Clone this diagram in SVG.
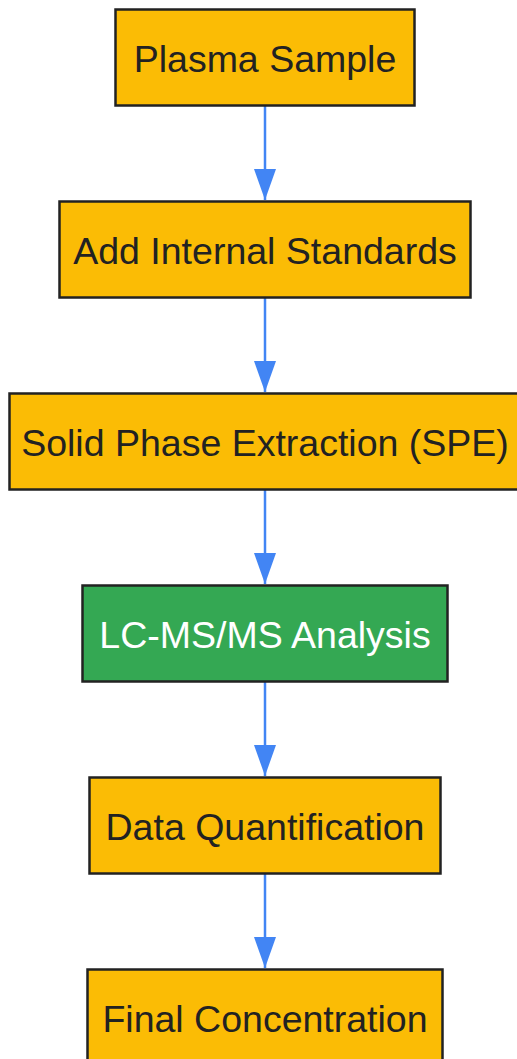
<svg xmlns="http://www.w3.org/2000/svg" width="517" height="1059" viewBox="0 0 517 1059">
<style>
.node rect{fill:#FBBC05;stroke:#222222;stroke-width:2.5}
.node.green rect{fill:#34A853}
.node text{font-family:"Liberation Sans",Arial,sans-serif;font-size:37.5px;fill:#222222;text-anchor:middle}
.node.green text{fill:#FFFFFF}
.edge{stroke:#4285F4;stroke-width:2.5;fill:none}
</style>
<defs>
<marker id="arrow" markerUnits="userSpaceOnUse" markerWidth="32" markerHeight="24" refX="31" refY="11" orient="auto">
<path d="M0,0 L31,11 L0,22 Z" fill="#4285F4"/>
</marker>
</defs>
<rect width="517" height="1059" fill="#FFFFFF"/>
<g id="connectors">
<path class="edge" d="M265,106 L265,200" marker-end="url(#arrow)"/>
<path class="edge" d="M265,298 L265,392" marker-end="url(#arrow)"/>
<path class="edge" d="M265,490 L265,584" marker-end="url(#arrow)"/>
<path class="edge" d="M265,682 L265,776" marker-end="url(#arrow)"/>
<path class="edge" d="M265,874 L265,968" marker-end="url(#arrow)"/>
</g>
<g id="plasma" class="node"><rect x="115.5" y="9.5" width="299" height="96"/><text x="265" y="72">Plasma Sample</text></g>
<g id="internal" class="node"><rect x="59.5" y="201.5" width="411" height="96"/><text x="265" y="264">Add Internal Standards</text></g>
<g id="spe" class="node"><rect x="9.5" y="393.5" width="511" height="96"/><text x="265" y="456">Solid Phase Extraction (SPE)</text></g>
<g id="lcms" class="node green"><rect x="82.5" y="585.5" width="365" height="96"/><text x="265" y="648">LC-MS/MS Analysis</text></g>
<g id="quant" class="node"><rect x="89.5" y="777.5" width="351" height="96"/><text x="265" y="840">Data Quantification</text></g>
<g id="final" class="node"><rect x="87.5" y="969.5" width="355" height="96"/><text x="265" y="1032">Final Concentration</text></g>
</svg>
